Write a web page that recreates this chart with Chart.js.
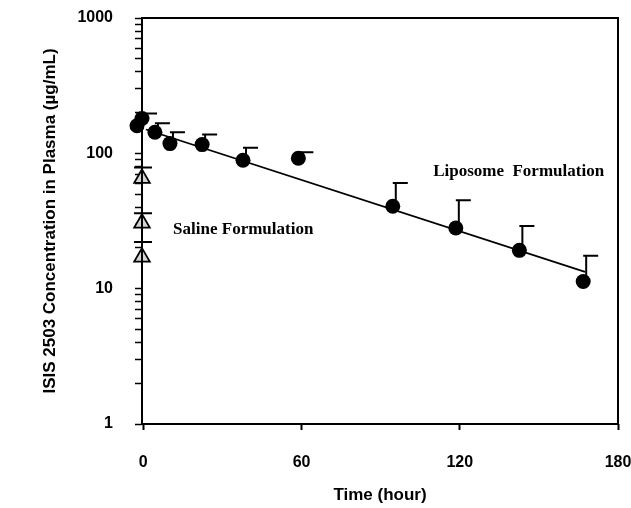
<!DOCTYPE html>
<html><head><meta charset="utf-8">
<script src="https://cdn.jsdelivr.net/npm/chart.js@4"></script>
<style>html,body{margin:0;padding:0;background:#fff}</style>
</head><body>
<canvas id="c" width="631" height="508"></canvas>
<script>
// ---- data ----
const liposomeTime  = [-2.4, -0.5, 4.4, 10.1, 22.3, 37.8, 58.8, 94.6, 118.5, 142.6, 166.8];
const liposomeConc  = [160, 181, 143, 118, 116, 89, 92, 40.6, 28.1, 19.2, 11.3];
const liposomeUpper = [null, 197, 167, 143, 138, 110, 102, 60.4, 45, 29, 17.5];
const salineTime  = [-0.5, -0.5, -0.5];
const salineConc  = [65.3, 30.5, 17.1];
const salineUpper = [78.7, 36.1, 22.1];
const fitTime = [1, 167.5];
const fitConc = [150, 13.3];
const xTicks = [0, 60, 120, 180];
const yTicks = [1,2,3,4,5,6,7,8,9,10,20,30,40,50,60,70,80,90,100,200,300,400,500,600,700,800,900,1000];
const yLabels = [1, 10, 100, 1000];
const notes = [
  {text: 'Liposome  Formulation', x: 109.9, y: 73.6},
  {text: 'Saline Formulation', x: 11.3, y: 27.5}
];

const pts = (xs, ys) => xs.map((x, i) => ({x, y: ys[i]}));

const errorBars = {
  id: 'errorBars',
  beforeDatasetsDraw(chart) {
    const ctx = chart.ctx, xs = chart.scales.x, ys = chart.scales.y;
    ctx.save();
    ctx.strokeStyle = '#000';
    ctx.lineWidth = 2;
    chart.data.datasets.forEach(ds => {
      if (!ds.upper) return;
      ds.data.forEach((p, i) => {
        const u = ds.upper[i];
        if (u == null) return;
        const px = xs.getPixelForValue(p.x) + ds.barShift;
        const py = ys.getPixelForValue(p.y);
        const pu = ys.getPixelForValue(u);
        ctx.beginPath();
        ctx.moveTo(px, py); ctx.lineTo(px, pu);
        ctx.moveTo(px + ds.capLeft, pu); ctx.lineTo(px + ds.capRight, pu);
        ctx.stroke();
      });
    });
    ctx.restore();
  }
};

const frame = {
  id: 'frame',
  afterDraw(chart) {
    const {ctx, chartArea: a, scales} = chart;
    ctx.save();
    ctx.strokeStyle = '#000';
    ctx.lineWidth = 2;
    ctx.strokeRect(a.left, a.top, a.right - a.left, a.bottom - a.top);
    ctx.fillStyle = '#000';
    ctx.font = 'bold 17px "Liberation Serif", "Times New Roman", serif';
    ctx.textBaseline = 'middle';
    ctx.textAlign = 'left';
    notes.forEach(n => {
      ctx.fillText(n.text, scales.x.getPixelForValue(n.x), scales.y.getPixelForValue(n.y));
    });
    ctx.restore();
  }
};

const sans = '"Liberation Sans", Arial, sans-serif';
const noPad = s => { s.paddingLeft = 0; s.paddingRight = 0; s.paddingTop = 0; s.paddingBottom = 0; };

new Chart(document.getElementById('c'), {
  type: 'scatter',
  data: {
    datasets: [
      {
        label: 'Fit', data: pts(fitTime, fitConc), showLine: true,
        borderColor: '#000', borderWidth: 1.8, pointRadius: 0, clip: false
      },
      {
        label: 'Liposome Formulation', data: pts(liposomeTime, liposomeConc),
        upper: liposomeUpper, barShift: 3, capLeft: -3, capRight: 12,
        pointStyle: 'circle', pointRadius: 7.5, backgroundColor: '#000', borderColor: '#000',
        borderWidth: 0, clip: false
      },
      {
        label: 'Saline Formulation', data: pts(salineTime, salineConc),
        upper: salineUpper, barShift: 0, capLeft: -8, capRight: 10,
        pointStyle: 'triangle', pointRadius: 9, backgroundColor: '#d4d4d4', borderColor: '#000',
        borderWidth: 1.8, clip: false
      }
    ]
  },
  options: {
    responsive: false,
    animation: false,
    devicePixelRatio: 1,
    layout: {padding: {left: 0, right: 13, top: 18, bottom: 0}},
    plugins: {legend: {display: false}, tooltip: {enabled: false}},
    scales: {
      x: {
        type: 'linear', min: -0.5, max: 180,
        afterBuildTicks: s => { s.ticks = xTicks.map(v => ({value: v})); },
        afterFit: s => { s.height = 84; noPad(s); },
        border: {display: false},
        grid: {drawOnChartArea: false, drawTicks: true, tickLength: 6, tickWidth: 2, color: '#000'},
        ticks: {color: '#000', padding: 23, font: {family: sans, size: 16, weight: 'bold'}, maxRotation: 0},
        title: {display: true, text: 'Time (hour)', color: '#000',
                font: {family: sans, size: 17, weight: 'bold'}, padding: {top: 0, bottom: 2}}
      },
      y: {
        type: 'logarithmic', min: 1, max: 1000,
        afterBuildTicks: s => { s.ticks = yTicks.map(v => ({value: v})); },
        afterFit: s => { s.width = 142; noPad(s); },
        border: {display: false},
        grid: {drawOnChartArea: false, drawTicks: true, tickLength: 7, tickWidth: 1.5, color: '#000'},
        ticks: {color: '#000', padding: 22, autoSkip: false,
                font: {family: sans, size: 16, weight: 'bold'},
                callback: v => yLabels.includes(v) ? String(v) : ''},
        title: {display: true, text: 'ISIS 2503 Concentration in Plasma (µg/mL)', color: '#000',
                font: {family: sans, size: 17, weight: 'bold'}, padding: {top: 40, bottom: 0}}
      }
    }
  },
  plugins: [errorBars, frame]
});
</script>
</body></html>
